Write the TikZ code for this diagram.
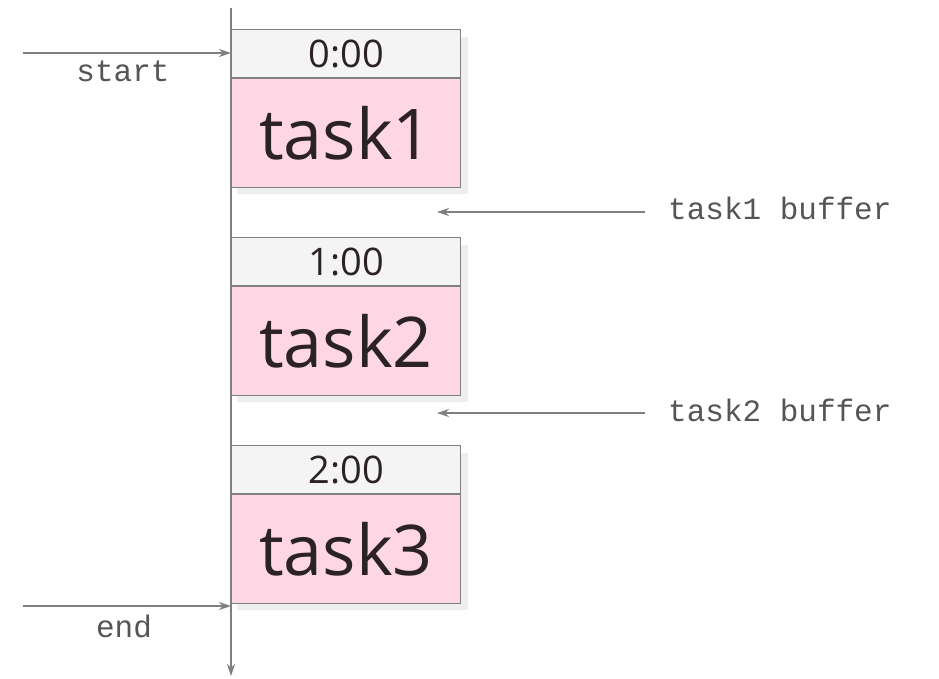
\documentclass[tikz,border=0pt]{standalone}
\usepackage{fontspec}
\setmainfont{Open Sans}
\newfontfamily\monof{Liberation Mono}
\usetikzlibrary{arrows.meta,positioning}
\definecolor{linegray}{HTML}{808080}
\definecolor{pinkfill}{HTML}{FFD6E3}
\definecolor{headfill}{HTML}{F4F4F4}
\definecolor{textdark}{HTML}{2B2226}
\definecolor{labgray}{HTML}{555555}
\definecolor{shadowgray}{HTML}{EEEEEE}
\tikzset{
  headbox/.style={draw=linegray, line width=1.2pt, fill=headfill, minimum width=229pt, minimum height=48pt, inner sep=0pt, anchor=north west, text=textdark, font=\fontsize{38}{44}\selectfont},
  bodybox/.style={draw=linegray, line width=1.2pt, fill=pinkfill, minimum width=229pt, minimum height=109pt, inner sep=0pt, anchor=north, text=textdark, font=\fontsize{70}{80}\selectfont},
  conn/.style={draw=linegray, line width=1.4pt, -{Stealth[length=12pt,width=8pt]}},
  lab/.style={text=labgray, font=\monof\fontsize{31}{34}\selectfont, inner sep=0pt},
}
\begin{document}
\begin{tikzpicture}[x=1pt,y=-1pt]
\useasboundingbox (0,0) rectangle (939,678);
\fill[white] (0,0) rectangle (939,678);
% shadows
\foreach \yt in {29,237,445}{
  \fill[shadowgray] (237,\yt+8) rectangle (468,\yt+165);
}
% timeline
\coordinate (ttop) at (231,8);
\coordinate (tbot) at (231,676);
\draw[conn] (ttop) -- (tbot);
% boxes
\node[headbox] (h1) at (231,29) {0:00};
\node[bodybox] (b1) at (h1.south) {task1};
\node[headbox] (h2) at (231,237) {1:00};
\node[bodybox] (b2) at (h2.south) {task2};
\node[headbox] (h3) at (231,445) {2:00};
\node[bodybox] (b3) at (h3.south) {task3};
% start / end
\coordinate (s0) at (23,53);
\coordinate (s1) at (231,53);
\draw[conn] (s0) -- (s1);
\node[lab] (start) at (123,71) {start};
\coordinate (e0) at (23,606);
\coordinate (e1) at (231,606);
\draw[conn] (e0) -- (e1);
\node[lab] (end) at (124,626) {end};
% buffers
\node[lab, anchor=west] (buf1) at (668,208) {task1 buffer};
\coordinate (bf1a) at (645,212);
\coordinate (bf1b) at (437,212);
\draw[conn] (bf1a) -- (bf1b);
\node[lab, anchor=west] (buf2) at (668,410) {task2 buffer};
\coordinate (bf2a) at (645,413);
\coordinate (bf2b) at (437,413);
\draw[conn] (bf2a) -- (bf2b);
\end{tikzpicture}
\end{document}
